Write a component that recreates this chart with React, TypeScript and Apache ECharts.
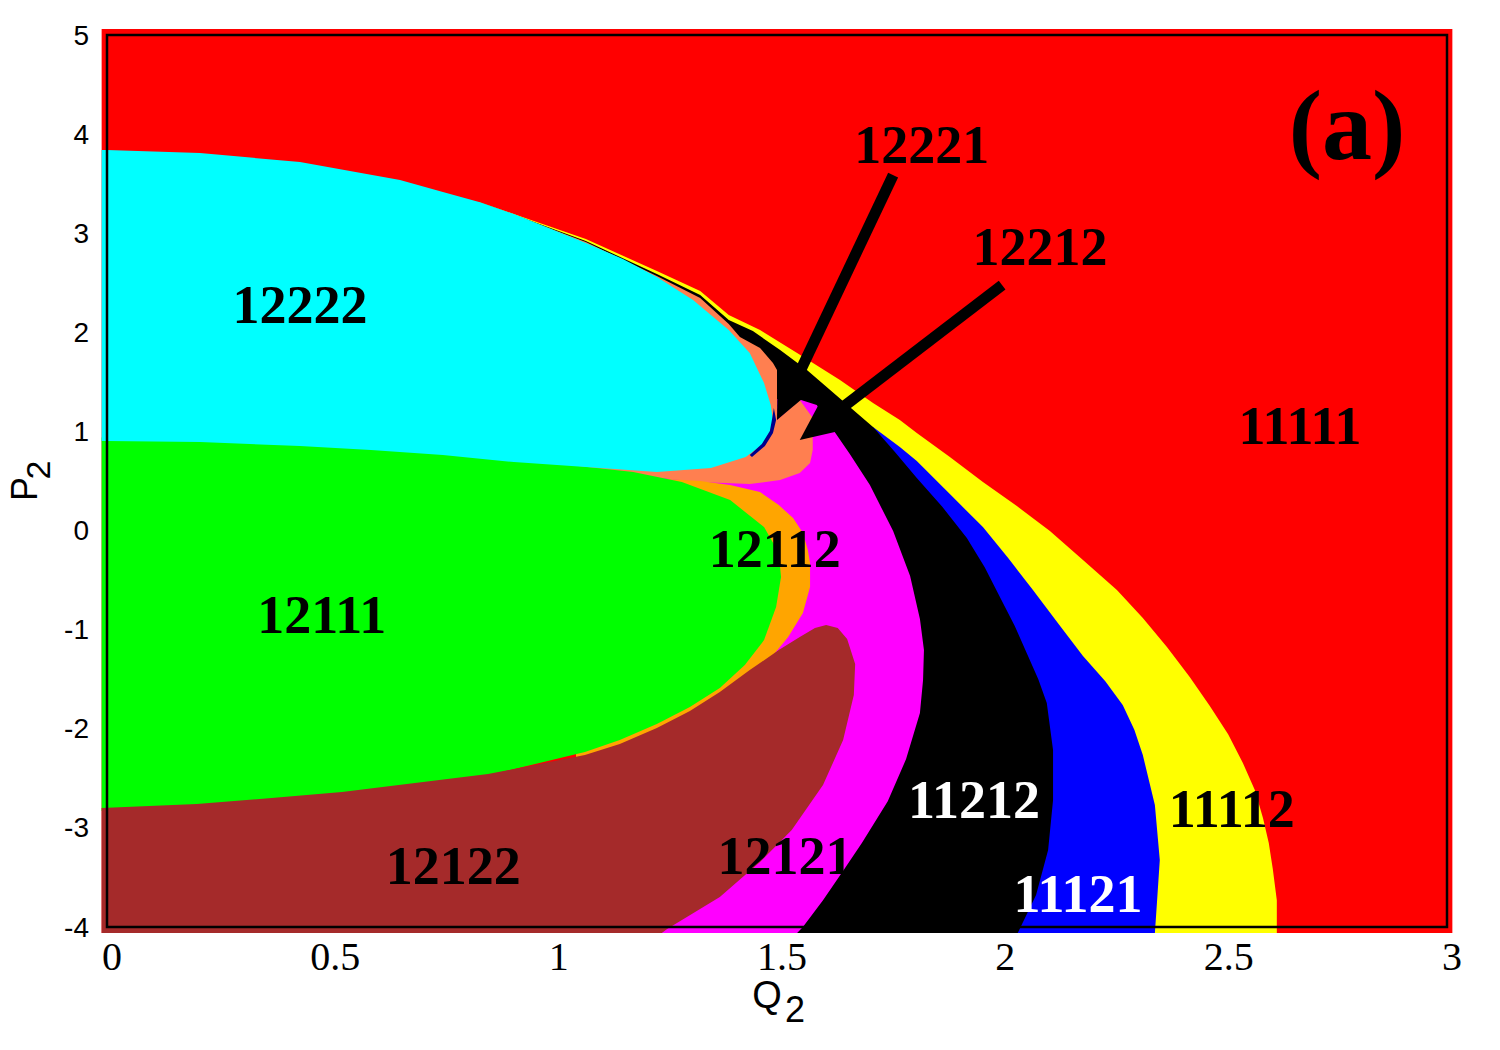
import React, { useEffect, useRef } from 'react';
import * as echarts from 'echarts';

const Q_TICKS = [0, 0.5, 1, 1.5, 2, 2.5, 3];
const P_TICKS = [-4, -3, -2, -1, 0, 1, 2, 3, 4, 5];

type Pt = [number, number];

// Region outlines (Q2, P2), painted in order, later ones on top
const RED_11111: Pt[] = [[-0.012, 5.06], [3.012, 5.06], [3.012, -4.06], [-0.012, -4.06]];

const YELLOW_11112: Pt[] = [
  [0.833, 3.315], [1.072, 2.941], [1.231, 2.619], [1.328, 2.417], [1.392, 2.175], [1.462, 2.023],
  [1.545, 1.791], [1.641, 1.519], [1.715, 1.287], [1.775, 1.115], [1.813, 0.984], [1.887, 0.742],
  [1.961, 0.489], [2.037, 0.247], [2.111, -0.005], [2.185, -0.298], [2.261, -0.6], [2.319, -0.883],
  [2.373, -1.176], [2.424, -1.478], [2.469, -1.771], [2.51, -2.054], [2.543, -2.346], [2.57, -2.619],
  [2.588, -2.901], [2.601, -3.153], [2.61, -3.416], [2.619, -3.729], [2.619, -4.06], [1.999, -4.06],
  [1.999, -1.71], [1.104, 1.821], [0.833, 3.133],
];

const BLUE_11121: Pt[] = [
  [1.715, 1.044], [1.775, 0.843], [1.813, 0.701], [1.887, 0.368], [1.961, 0.035], [2.018, -0.28],
  [2.073, -0.6], [2.13, -0.94], [2.185, -1.266], [2.235, -1.52], [2.274, -1.761], [2.3, -2.01],
  [2.319, -2.265], [2.346, -2.77], [2.357, -3.325], [2.351, -3.729], [2.346, -4.06], [1.865, -4.06],
  [1.865, -1.206], [1.73, 0.61],
];

const BLACK_11212: Pt[] = [
  [0.833, 3.315], [1.072, 2.921], [1.231, 2.588], [1.328, 2.376], [1.392, 2.124], [1.446, 2.013],
  [1.507, 1.821], [1.567, 1.62], [1.619, 1.418], [1.663, 1.246], [1.715, 1.044], [1.764, 0.792],
  [1.813, 0.53], [1.87, 0.24], [1.925, -0.076], [1.965, -0.37], [1.999, -0.671], [2.032, -0.96],
  [2.06, -1.246], [2.085, -1.5], [2.104, -1.741], [2.118, -2.215], [2.118, -2.72], [2.107, -3.224],
  [2.08, -3.678], [2.039, -4.06], [1.328, -4.06], [1.328, 1.317], [0.833, 3.184],
];

const MAGENTA_12121: Pt[] = [
  [1.54, 1.337], [1.589, 1.266], [1.623, 1.034], [1.663, 0.772], [1.708, 0.459], [1.76, -0.005],
  [1.798, -0.459], [1.82, -0.893], [1.829, -1.206], [1.827, -1.509], [1.82, -1.842], [1.789, -2.306],
  [1.748, -2.73], [1.69, -3.153], [1.652, -3.406], [1.603, -3.729], [1.558, -4.001], [1.545, -4.06],
  [1.104, -4.06], [1.104, 0.812], [1.462, 1.317],
];

const CORAL_12212: Pt[] = [
  [0.833, 3.315], [1.072, 2.911], [1.231, 2.568], [1.328, 2.346], [1.392, 2.084], [1.417, 1.953],
  [1.462, 1.842], [1.491, 1.69], [1.5, 1.62], [1.5, 1.115], [1.551, 1.317], [1.58, 1.135],
  [1.58, 0.812], [1.574, 0.681], [1.551, 0.58], [1.507, 0.51], [1.439, 0.469], [1.328, 0.489],
  [1.216, 0.54], [1.104, 0.6], [0.992, 0.661], [0.992, 1.317], [0.833, 3.184],
];

const ORANGE_12112: Pt[] = [
  [1.014, 0.641], [1.104, 0.59], [1.216, 0.53], [1.328, 0.5], [1.395, 0.459], [1.462, 0.388],
  [1.504, 0.257], [1.536, 0.126], [1.558, -0.025], [1.569, -0.197], [1.574, -0.328], [1.574, -0.57],
  [1.558, -0.833], [1.525, -1.075], [1.48, -1.32], [1.328, -1.892], [1.104, -2.316], [1.05, -2.4],
  [1.05, -0.701],
];

const GREEN_12111: Pt[] = [
  [-0.012, 0.94], [0.309, 0.9], [0.636, 0.81], [0.96, 0.7], [1.07, 0.645], [1.178, 0.59],
  [1.287, 0.489], [1.395, 0.308], [1.471, 0.035], [1.504, -0.227], [1.509, -0.469], [1.498, -0.772],
  [1.471, -1.105], [1.428, -1.357], [1.372, -1.589], [1.305, -1.781], [1.231, -1.953], [1.148, -2.114],
  [1.07, -2.235], [0.853, -2.47], [0.526, -2.66], [0.201, -2.78], [-0.012, -2.83],
];

const BROWN_12122: Pt[] = [
  [-0.012, -2.8], [0.201, -2.76], [0.526, -2.639], [0.853, -2.457], [1.07, -2.265], [1.148, -2.154],
  [1.231, -1.993], [1.305, -1.821], [1.372, -1.63], [1.439, -1.408], [1.504, -1.206], [1.551, -1.075],
  [1.585, -0.984], [1.61, -0.954], [1.636, -0.984], [1.657, -1.095], [1.675, -1.347], [1.672, -1.66],
  [1.648, -2.114], [1.603, -2.568], [1.533, -3.022], [1.462, -3.345], [1.372, -3.698], [1.254, -4.021],
  [1.242, -4.06], [-0.012, -4.06],
];

const CYAN_12222: Pt[] = [
  [-0.012, 3.84], [0, 3.84], [0.208, 3.809], [0.432, 3.718], [0.656, 3.537], [0.752, 3.416],
  [0.833, 3.315], [0.911, 3.194], [0.99, 3.05], [1.072, 2.901], [1.155, 2.74], [1.231, 2.558],
  [1.312, 2.326], [1.392, 2.023], [1.439, 1.791], [1.471, 1.488], [1.486, 1.266], [1.491, 1.115],
  [1.484, 0.994], [1.466, 0.863], [1.43, 0.742], [1.352, 0.631], [1.231, 0.59], [1.072, 0.641],
  [0.911, 0.691], [0.752, 0.762], [0.591, 0.812], [0.432, 0.853], [0.208, 0.893], [0, 0.903],
  [-0.012, 0.903],
];

const NAVY_SLIVER: Pt[] = [
  [1.493, 1.236], [1.498, 1.115], [1.491, 0.984], [1.473, 0.853], [1.444, 0.742], [1.439, 0.762],
  [1.466, 0.873], [1.484, 1.004], [1.489, 1.125],
];

// Arrows: [start, tip]
const ARROW_12221: Pt[] = [[1.76, 3.587], [1.5, 1.115]];
const ARROW_12212: Pt[] = [[2.004, 2.477], [1.551, 0.913]];

// Region labels
const LABEL_TEXT = ['12222', '12221', '12212', '11111', '12112', '12111', '11212', '11112', '12121', '11121', '12122'];
const LABEL_Q = [0.432, 1.824, 2.089, 2.671, 1.495, 0.481, 1.941, 2.518, 1.518, 2.174, 0.775];
const LABEL_P = [2.276, 3.89, 2.861, 1.055, -0.187, -0.853, -2.72, -2.81, -3.285, -3.668, -3.385];
const WHITE_LABELS = ['11212', '11121'];
const PANEL_TAG = { text: '(a)', q: 2.776, p: 4.09 };

const REGIONS: { pts: Pt[]; color: string }[] = [
  { pts: RED_11111, color: '#ff0000' },
  { pts: YELLOW_11112, color: '#ffff00' },
  { pts: BLUE_11121, color: '#0000ff' },
  { pts: BLACK_11212, color: '#000000' },
  { pts: MAGENTA_12121, color: '#ff00ff' },
  { pts: CORAL_12212, color: '#ff7f50' },
  { pts: ORANGE_12112, color: '#ffa500' },
  { pts: GREEN_12111, color: '#00ff00' },
  { pts: BROWN_12122, color: '#a52a2a' },
  { pts: CYAN_12222, color: '#00ffff' },
  { pts: NAVY_SLIVER, color: '#00008b' },
];

const ARROWS = [ARROW_12221, ARROW_12212];

const SERIF = '"Liberation Serif", "Times New Roman", serif';
const SANS = '"Liberation Sans", Arial, Helvetica, sans-serif';

export default function App() {
  const ref = useRef<HTMLDivElement>(null);
  useEffect(() => {
    if (!ref.current) return;
    const chart = echarts.init(ref.current, null, { renderer: 'svg' });
    const nameStyle = { fill: '#000', fontFamily: SANS, align: 'center', verticalAlign: 'middle', lineHeight: 30 };
    const option: any = {
      animation: false,
      backgroundColor: '#ffffff',
      grid: { left: 107, right: 53, top: 35, bottom: 123 },
      xAxis: {
        type: 'value',
        min: Q_TICKS[0],
        max: Q_TICKS[Q_TICKS.length - 1],
        interval: Q_TICKS[1] - Q_TICKS[0],
        axisLine: { show: false },
        axisTick: { show: false },
        splitLine: { show: false },
        axisLabel: {
          fontFamily: SERIF,
          fontSize: 40,
          lineHeight: 34,
          color: '#000',
          margin: 12,
          padding: [0, 0, 0, 10],
        },
      },
      yAxis: {
        type: 'value',
        min: P_TICKS[0],
        max: P_TICKS[P_TICKS.length - 1],
        interval: P_TICKS[1] - P_TICKS[0],
        axisLine: { show: false },
        axisTick: { show: false },
        splitLine: { show: false },
        axisLabel: { fontFamily: SANS, fontSize: 28, color: '#000', margin: 18 },
      },
      graphic: [
        { type: 'text', x: 767, y: 995, style: { ...nameStyle, text: 'Q', fontSize: 38 } },
        { type: 'text', x: 795, y: 1009, style: { ...nameStyle, text: '2', fontSize: 36 } },
        { type: 'text', x: 24, y: 489, rotation: Math.PI / 2, style: { ...nameStyle, text: 'P', fontSize: 36 } },
        { type: 'text', x: 38, y: 470, rotation: Math.PI / 2, style: { ...nameStyle, text: '2', fontSize: 34 } },
      ],
      series: [
        {
          type: 'custom',
          name: 'regions',
          coordinateSystem: 'cartesian2d',
          clip: false,
          silent: true,
          z: 2,
          data: REGIONS.map((r) => r.pts[0]),
          renderItem: (params: any, api: any) => {
            const r = REGIONS[params.dataIndex];
            return {
              type: 'polygon',
              z2: params.dataIndex,
              shape: { points: r.pts.map((p) => api.coord(p)) },
              style: { fill: r.color, stroke: null },
            };
          },
        },
        {
          type: 'custom',
          name: 'arrows',
          coordinateSystem: 'cartesian2d',
          clip: false,
          silent: true,
          z: 3,
          data: ARROWS.map((a) => a[0]),
          renderItem: (params: any, api: any) => {
            const a = ARROWS[params.dataIndex];
            const p0 = api.coord(a[0]);
            const p1 = api.coord(a[1]);
            const dx = p1[0] - p0[0];
            const dy = p1[1] - p0[1];
            const len = Math.sqrt(dx * dx + dy * dy);
            const ux = dx / len;
            const uy = dy / len;
            const L = 46;
            const hw = 21;
            const bx = p1[0] - ux * L;
            const by = p1[1] - uy * L;
            return {
              type: 'group',
              children: [
                {
                  type: 'line',
                  shape: { x1: p0[0], y1: p0[1], x2: bx + ux * 4, y2: by + uy * 4 },
                  style: { stroke: '#000', lineWidth: 11, lineCap: 'butt' },
                },
                {
                  type: 'polygon',
                  shape: {
                    points: [
                      [p1[0], p1[1]],
                      [bx - uy * hw, by + ux * hw],
                      [bx + uy * hw, by - ux * hw],
                    ],
                  },
                  style: { fill: '#000' },
                },
              ],
            };
          },
        },
        {
          type: 'custom',
          name: 'labels',
          coordinateSystem: 'cartesian2d',
          clip: false,
          silent: true,
          z: 4,
          data: LABEL_TEXT.map((_, i) => [LABEL_Q[i], LABEL_P[i]]),
          renderItem: (params: any, api: any) => {
            const i = params.dataIndex;
            const c = api.coord([LABEL_Q[i], LABEL_P[i]]);
            const t = LABEL_TEXT[i];
            return {
              type: 'text',
              x: c[0],
              y: c[1],
              style: {
                text: t,
                fill: WHITE_LABELS.includes(t) ? '#ffffff' : '#000000',
                fontFamily: SERIF,
                fontWeight: 'bold',
                fontSize: 54,
                align: 'center',
                verticalAlign: 'middle',
              },
            };
          },
        },
        {
          type: 'custom',
          name: 'tag',
          coordinateSystem: 'cartesian2d',
          clip: false,
          silent: true,
          z: 4,
          data: [[PANEL_TAG.q, PANEL_TAG.p]],
          renderItem: (params: any, api: any) => {
            const c = api.coord([PANEL_TAG.q, PANEL_TAG.p]);
            return {
              type: 'text',
              x: c[0],
              y: c[1],
              style: {
                text: PANEL_TAG.text,
                fill: '#000',
                fontFamily: SERIF,
                fontWeight: 'bold',
                fontSize: 100,
                align: 'center',
                verticalAlign: 'middle',
              },
            };
          },
        },
        {
          type: 'custom',
          name: 'frame',
          coordinateSystem: 'cartesian2d',
          clip: false,
          silent: true,
          z: 5,
          data: [[Q_TICKS[0], P_TICKS[P_TICKS.length - 1]]],
          renderItem: (params: any, api: any) => {
            const a = api.coord([Q_TICKS[0], P_TICKS[P_TICKS.length - 1]]);
            const b = api.coord([Q_TICKS[Q_TICKS.length - 1], P_TICKS[0]]);
            return {
              type: 'rect',
              shape: { x: a[0], y: a[1], width: b[0] - a[0], height: b[1] - a[1] },
              style: { fill: 'none', stroke: '#000', lineWidth: 2.5 },
            };
          },
        },
      ],
    };
    chart.setOption(option);
    return () => chart.dispose();
  }, []);
  return (
    <div
      ref={ref}
      style={{ position: 'fixed', left: 0, top: 0, width: 1500, height: 1050, background: '#fff' }}
    />
  );
}
